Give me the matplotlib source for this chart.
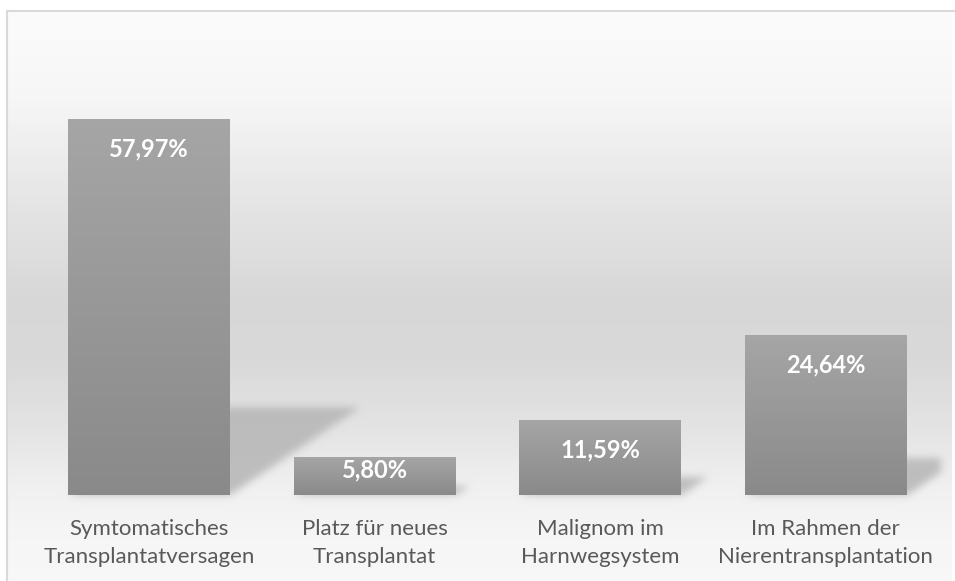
import numpy as np
import matplotlib
matplotlib.use("Agg")
import matplotlib.pyplot as plt
from matplotlib.patches import Rectangle

categories = ["Symtomatisches\nTransplantatversagen",
              "Platz für neues\nTransplantat",
              "Malignom im\nHarnwegsystem",
              "Im Rahmen der\nNierentransplantation"]
values = [57.97, 5.80, 11.59, 24.64]
value_labels = ["57,97%", "5,80%", "11,59%", "24,64%"]

W, H, DPI = 955, 581, 100
FONT = "Lato"

fig = plt.figure(figsize=(W / DPI, H / DPI), dpi=DPI)
fig.patch.set_facecolor("white")

# full-figure backdrop axes, pixel units, y measured from the bottom
bg = fig.add_axes([0, 0, 1, 1], zorder=0)
bg.set_xlim(0, W)
bg.set_ylim(0, H)
bg.axis("off")

ax = fig.add_axes([36.25 / W, 86 / H, 902 / W, 454 / H], zorder=2)
ax.set_xlim(-0.5, 3.5)
ax.set_ylim(0, 70)
ax.patch.set_alpha(0)
for s in ax.spines.values():
    s.set_visible(False)
ax.set_yticks([])

x = np.arange(len(values))
bar_width = 0.718
bars = ax.bar(x, values, width=bar_width, color="none", edgecolor="none", zorder=3)

# ---- background gradient band with soft perspective shadows ----
frame_left, frame_top, frame_right = 7, 11, 951   # px, image coordinates (top origin)
rows = np.arange(H)
stops_y = [0, 35, 100, 200, 300, 360, 430, 490, 540, 581]
stops_v = [0.985, 0.982, 0.965, 0.900, 0.845, 0.850, 0.895, 0.945, 0.965, 0.97]
prof = np.interp(rows, stops_y, stops_v)
img = np.ones((H, W))
img[frame_top:, frame_left:frame_right] = prof[frame_top:, None]

# shadow mask derived from the bar geometry in display pixels
mask = np.zeros((H, W))
yy, xx = np.mgrid[0:H, 0:W]
ydisp = H - yy - 0.5
xdisp = xx + 0.5
skew, squash = 1.48, 0.234
x_clip = ax.transAxes.transform((1, 0))[0] + 2
for b in bars:
    (xl, y0) = ax.transData.transform((b.get_x(), 0))
    (xr, y1) = ax.transData.transform((b.get_x() + b.get_width(), b.get_height()))
    hs = (y1 - y0) * squash
    t = ydisp - y0
    inside = (t >= 0) & (t <= hs) & (xdisp >= xl + skew * t) & (xdisp <= xr + skew * t) & (xdisp <= x_clip)
    mask[inside] = 1.0


def gblur(a, sigma):
    r = int(3 * sigma)
    k = np.exp(-0.5 * (np.arange(-r, r + 1) / sigma) ** 2)
    k /= k.sum()
    p = np.pad(a, r, mode="edge")
    out = np.zeros_like(p)
    for i, w in enumerate(k):
        out += w * np.roll(p, i - r, axis=1)
    p = out
    out = np.zeros_like(p)
    for i, w in enumerate(k):
        out += w * np.roll(p, i - r, axis=0)
    return out[r:-r, r:-r]


mask = gblur(mask, 4.0)
shadow_col = 0.71
img = img * (1 - 0.85 * mask) + shadow_col * 0.85 * mask
rgb = np.dstack([img, img, img])
bg.imshow(rgb, extent=(0, W, 0, H), origin="upper", aspect="auto", interpolation="bilinear", zorder=0)

# light frame around the chart area
bg.add_patch(Rectangle((frame_left, -5), W + 10, H - frame_top + 5, fill=False,
                       edgecolor="#d9d9d9", linewidth=1.5, zorder=1))

# ---- bars with vertical gradient fill ----
grad = np.linspace(0, 1, 256)[:, None]
for b in bars:
    x0, w, h = b.get_x(), b.get_width(), b.get_height()
    top_c, bot_c = 0.650, 0.540
    g = top_c + (bot_c - top_c) * grad
    im = ax.imshow(np.dstack([g, g, g]), extent=(x0, x0 + w, 0, h), origin="upper",
                   aspect="auto", zorder=3, interpolation="bilinear")
    im.set_clip_path(b)

# ---- value labels inside the bars ----
px_per_unit = ax.transData.transform((0, 1))[1] - ax.transData.transform((0, 0))[1]
for xi, v, lab in zip(x, values, value_labels):
    hpx = v * px_per_unit
    off_px = min(30, hpx / 2 - 6)
    ax.annotate(lab, xy=(xi, v), xytext=(0, -off_px * 72 / DPI), textcoords="offset points",
                ha="center", va="center", color="white", fontsize=17, fontweight="bold",
                family=FONT, zorder=5)

# ---- category labels ----
ax.set_xticks(x)
ax.set_xticklabels(categories, fontsize=16, color="#595959", family=FONT, linespacing=1.5)
ax.tick_params(axis="x", length=0, pad=17)

fig.savefig("out.png", dpi=DPI)
